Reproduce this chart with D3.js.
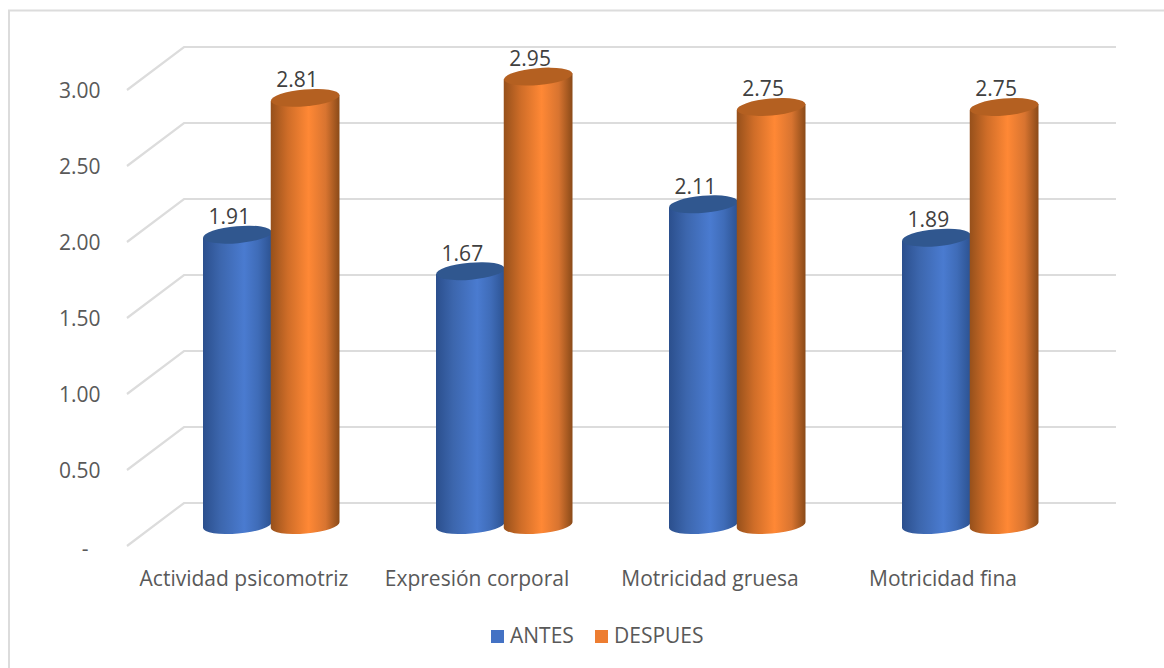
<!DOCTYPE html>
<html><head><meta charset="utf-8">
<script src="https://cdn.jsdelivr.net/npm/d3@7/dist/d3.min.js"></script>
<style>html,body{margin:0;padding:0;background:#fff}svg{display:block}text{font-family:"Open Sans",sans-serif}</style>
</head><body><svg id="c" width="1164" height="668"></svg>
<script>
const categories = ["Actividad psicomotriz","Expresión corporal","Motricidad gruesa","Motricidad fina"];
const seriesNames = ["ANTES","DESPUES"];
const antes = [1.91,1.67,2.11,1.89];
const despues = [2.81,2.95,2.75,2.75];
const tickValues = [0,0.5,1,1.5,2,2.5,3];
const seriesValues = [antes,despues];

const svg = d3.select("#c");
const x = d3.scaleBand().domain(categories).range([154.5,1086.5]).paddingInner(0).paddingOuter(0);
const inner = d3.scaleBand().domain(seriesNames).range([-67.5,68]);
const y = d3.scaleLinear().domain([0,3]).range([525,69]);
const depthBack = -22, depthFront = 21, frontX = 127, backX = 184, rightX = 1116;

// frame
svg.append("path").attr("d","M9,668V10.5H1164").attr("fill","none").attr("stroke","#dcdcdc").attr("stroke-width",2);

const defs = svg.append("defs");
function grad(id,stops){
  const g = defs.append("linearGradient").attr("id",id);
  stops.forEach(s=>g.append("stop").attr("offset",s[0]).attr("stop-color",s[1]));
}
grad("g0",[[0,"#2b4f8d"],[0.25,"#3c66ad"],[0.6,"#4a7bd0"],[0.8,"#3f6cb8"],[1,"#2c5291"]]);
grad("g1",[[0,"#96501b"],[0.25,"#cf6d28"],[0.55,"#ff8835"],[0.8,"#d87430"],[1,"#8a4a18"]]);
const capColors = ["#30578f","#b46021"];

// gridlines
const grid = svg.append("g").attr("fill","none").attr("stroke","#dcdcdc").attr("stroke-width",2.2);
tickValues.forEach(v=>{
  grid.append("polyline").attr("points",`${frontX},${y(v)+depthFront} ${backX},${y(v)+depthBack} ${rightX},${y(v)+depthBack}`);
});

// value axis
const yAxis = d3.axisLeft(y).tickValues(tickValues).tickSize(0).tickPadding(0)
  .tickFormat(v=>v===0?"-":d3.format(".2f")(v));
const ya = svg.append("g").attr("transform",`translate(100.5,${depthFront+1})`).call(yAxis);
ya.select(".domain").remove();
ya.selectAll("text").attr("font-size",21).attr("fill","#595959").attr("font-family",'"Open Sans",sans-serif');
ya.selectAll("text").filter(v=>v===0).attr("dx",-12).attr("dy","0.42em");

// category axis
const xAxis = d3.axisBottom(x).tickSize(0).tickPadding(0);
const xa = svg.append("g").attr("transform","translate(-27,571)").call(xAxis);
xa.select(".domain").remove();
xa.selectAll("text").attr("font-size",21).attr("fill","#595959").attr("font-family",'"Open Sans",sans-serif');

// cylinders
const ry = 8.5, tilt = -5;
function cylinder(g,cx,r,topY,baseY,si){
  const dx = r, dy = r*Math.tan(tilt*Math.PI/180);
  const d = `M${cx-dx},${topY-dy}L${cx+dx},${topY+dy}L${cx+dx},${baseY+dy}A${r},${ry} ${tilt} 0 1 ${cx-dx},${baseY-dy}Z`;
  g.append("path").attr("d",d).attr("fill",`url(#g${si})`);
  g.append("ellipse").attr("cx",0).attr("cy",0).attr("rx",r).attr("ry",ry)
    .attr("transform",`translate(${cx},${topY}) rotate(${tilt})`).attr("fill",capColors[si]);
}
const bars = svg.append("g");
categories.forEach((c,i)=>{
  seriesNames.forEach((s,si)=>{
    const cx = x(c)+x.bandwidth()/2+inner(s)+inner.bandwidth()/2;
    cylinder(bars,cx,inner.bandwidth()/2+0.5,y(seriesValues[si][i]),y(0),si);
  });
});
// data labels
categories.forEach((c,i)=>{
  seriesNames.forEach((s,si)=>{
    const cx = x(c)+x.bandwidth()/2+inner(s)+inner.bandwidth()/2;
    svg.append("text").attr("x",cx-8).attr("y",y(seriesValues[si][i])-18)
      .attr("dy","0.35em").attr("text-anchor","middle").attr("font-size",21).attr("fill","#404040")
      .text(d3.format(".2f")(seriesValues[si][i]));
  });
});

// legend
const legX = [491,595], legTx = [510,614], colors=["#4472c4","#ed7d31"];
seriesNames.forEach((s,i)=>{
  svg.append("rect").attr("x",legX[i]).attr("y",630).attr("width",13).attr("height",13).attr("fill",colors[i]);
  svg.append("text").attr("x",legTx[i]).attr("y",636).attr("dy","0.35em").attr("font-size",21).attr("fill","#595959").text(s);
});
</script></body></html>
